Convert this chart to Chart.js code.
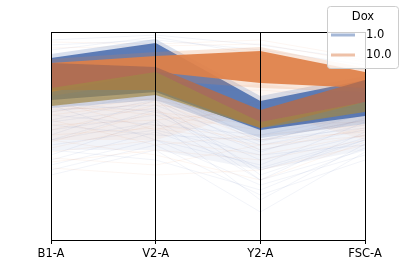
<!DOCTYPE html>
<html>
<head>
<meta charset="utf-8">
<script src="https://cdn.jsdelivr.net/npm/chart.js@4.4.1/dist/chart.umd.min.js"></script>
<style>
  html, body { margin: 0; padding: 0; background: #fff; }
  #wrap { width: 405px; height: 270px; }
</style>
</head>
<body>
<div id="wrap"><canvas id="parallelChart"></canvas></div>
<script>
// --- data ---
const axisLabels = ['B1-A', 'V2-A', 'Y2-A', 'FSC-A'];
const doxLevels = ['1.0', '10.0'];

// Dox 1.0: spread, halo and dense core (upper / lower edge at each axis)
const dox1SpreadTop = [140, 145, 112, 128];
const dox1SpreadBottom = [90, 90, 70, 90];
const dox1HaloTop = [186, 201, 144, 164];
const dox1HaloBottom = [132, 140, 102, 116];
const dox1CoreTop = [182, 197, 139, 160];
const dox1CoreBottom = [140, 148, 110, 124];

// Dox 10.0: spread, halo, high group, dense mixed group, lower tail
const dox10SpreadTop = [148, 150, 156, 145];
const dox10SpreadBottom = [100, 100, 130, 100];
const dox10HaloTop = [181, 188, 193, 172];
const dox10HaloBottom = [144, 160, 152, 148];
const dox10HighTop = [177, 184, 189, 168];
const dox10HighBottom = [148, 168, 157, 152];
const dox10DenseTop = [177, 173, 130, 160];
const dox10DenseBottom = [150, 150, 112, 138];
const dox10TailTop = [152, 168, 118, 138];
const dox10TailBottom = [134, 145, 112, 128];

// sparse single events
const dox1Sparse = [
    [140, 150, 100, 120], [130, 135, 95, 115], [120, 140, 90, 110],
    [110, 125, 80, 105], [100, 130, 70, 100], [95, 110, 85, 95],
    [85, 120, 60, 90], [75, 100, 55, 85], [70, 95, 45, 80],
    [65, 90, 28, 88], [125, 115, 105, 125], [135, 100, 75, 118],
    [105, 140, 65, 100], [115, 105, 100, 112], [90, 80, 50, 92],
    [145, 145, 110, 130], [138, 128, 88, 122], [100, 118, 40, 96],
    [80, 108, 72, 102], [128, 146, 98, 126], [118, 132, 60, 108],
    [200, 205, 195, 180], [195, 200, 190, 175], [190, 203, 185, 170]
];
const dox10Sparse = [
    [145, 140, 120, 135], [135, 125, 110, 128], [125, 138, 100, 120],
    [115, 120, 130, 125], [105, 112, 95, 110], [98, 128, 115, 118],
    [88, 100, 85, 105], [78, 90, 80, 100], [72, 65, 70, 95],
    [140, 110, 140, 138], [120, 95, 105, 115], [110, 135, 125, 130],
    [92, 115, 100, 108], [132, 130, 90, 112], [100, 85, 60, 98],
    [150, 148, 150, 142], [82, 75, 95, 104], [128, 142, 135, 132],
    [198, 196, 200, 182], [192, 194, 196, 178]
];

// --- styles ---
const BLUE = '70,106,172';
const ORANGE = '224,128,72';
const BROWN = '172,108,84';
const OLIVE = '160,136,70';

const datasets = [];

function addLine(values, rgb, alpha, group) {
    datasets.push({
        label: group,
        data: values,
        borderColor: `rgba(${rgb},${alpha})`,
        borderWidth: 1,
        pointRadius: 0,
        fill: false,
        tension: 0
    });
}

function addBand(top, bottom, rgb, alpha, group) {
    datasets.push({
        label: group,
        data: top,
        borderColor: 'rgba(0,0,0,0)',
        borderWidth: 0,
        pointRadius: 0,
        fill: false,
        tension: 0
    });
    datasets.push({
        label: group,
        data: bottom,
        borderColor: 'rgba(0,0,0,0)',
        borderWidth: 0,
        pointRadius: 0,
        backgroundColor: `rgba(${rgb},${alpha})`,
        fill: '-1',
        tension: 0
    });
}

dox1Sparse.forEach(v => addLine(v, BLUE, 0.07, doxLevels[0]));
dox10Sparse.forEach(v => addLine(v, ORANGE, 0.07, doxLevels[1]));
addBand(dox1SpreadTop, dox1SpreadBottom, BLUE, 0.07, doxLevels[0]);
addBand(dox10SpreadTop, dox10SpreadBottom, ORANGE, 0.07, doxLevels[1]);
addBand(dox1HaloTop, dox1HaloBottom, BLUE, 0.2, doxLevels[0]);
addBand(dox1CoreTop, dox1CoreBottom, BLUE, 0.85, doxLevels[0]);
addBand(dox10HaloTop, dox10HaloBottom, ORANGE, 0.2, doxLevels[1]);
addBand(dox10HighTop, dox10HighBottom, ORANGE, 0.92, doxLevels[1]);
addBand(dox10DenseTop, dox10DenseBottom, BROWN, 0.92, doxLevels[1]);
addBand(dox10TailTop, dox10TailBottom, OLIVE, 0.7, doxLevels[1]);

// later datasets on top
datasets.forEach((d, i) => { d.order = datasets.length - i; });

// top spine + legend box
const framePlugin = {
    id: 'framePlugin',
    afterDraw(chart) {
        const { ctx, chartArea } = chart;
        ctx.save();
        ctx.strokeStyle = '#000';
        ctx.lineWidth = 1;
        ctx.beginPath();
        ctx.moveTo(chartArea.left, Math.round(chartArea.top) + 0.5);
        ctx.lineTo(chartArea.right, Math.round(chartArea.top) + 0.5);
        ctx.stroke();

        // legend
        ctx.fillStyle = 'rgba(255,255,255,0.8)';
        ctx.strokeStyle = '#cccccc';
        ctx.beginPath();
        ctx.roundRect(327.5, 6.5, 71, 62, 3);
        ctx.fill();
        ctx.stroke();

        ctx.font = '11.5px "DejaVu Sans"';
        ctx.fillStyle = '#000';
        ctx.textBaseline = 'middle';
        ctx.textAlign = 'center';
        ctx.fillText('Dox', 363, 17);
        ctx.textAlign = 'left';
        const colors = ['76,114,176', '221,132,82'];
        doxLevels.forEach((lvl, i) => {
            const y = 35 + i * 20;
            ctx.strokeStyle = `rgba(${colors[i]},0.5)`;
            ctx.lineWidth = 3;
            ctx.beginPath();
            ctx.moveTo(331, y);
            ctx.lineTo(355, y);
            ctx.stroke();
            ctx.fillText(lvl, 366, y + 0.5);
        });
        ctx.restore();
    }
};

new Chart(document.getElementById('parallelChart'), {
    type: 'line',
    data: { labels: axisLabels, datasets: datasets },
    plugins: [framePlugin],
    options: {
        responsive: true,
        maintainAspectRatio: false,
        animation: false,
        layout: { padding: { left: 51, right: 40, top: 32, bottom: 0 } },
        plugins: {
            legend: { display: false },
            tooltip: { enabled: false },
            filler: { propagate: false }
        },
        scales: {
            x: {
                offset: false,
                grid: { color: '#000', lineWidth: 1, z: 1, tickLength: 4, drawTicks: true },
                border: { color: '#000', width: 1, z: 1 },
                ticks: {
                    color: '#000',
                    padding: 3,
                    maxRotation: 0,
                    font: { family: 'DejaVu Sans', size: 11.5 }
                },
                afterFit(scale) { scale.height = 30; }
            },
            y: {
                display: false,
                min: 0,
                max: 208
            }
        }
    }
});
</script>
</body>
</html>
